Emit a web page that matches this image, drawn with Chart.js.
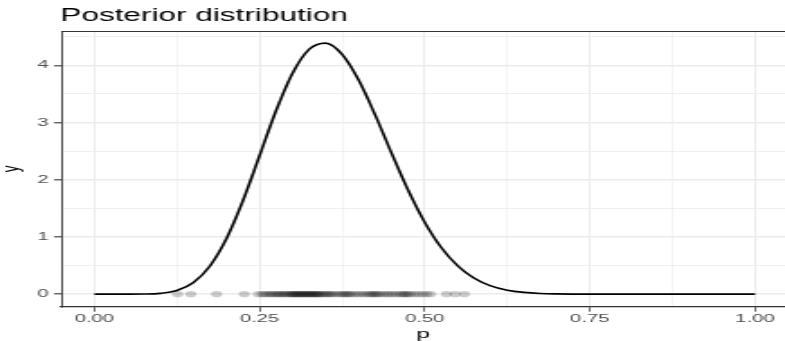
<!DOCTYPE html>
<html>
<head>
<meta charset="utf-8">
<script src="https://cdn.jsdelivr.net/npm/chart.js@4.4.1/dist/chart.umd.min.js"></script>
<style>
  html, body { margin: 0; padding: 0; background: #ffffff; overflow: hidden; }
  #wrap { width: 785px; height: 341px; overflow: hidden; }
</style>
</head>
<body>
<div id="wrap"><canvas id="c" width="436" height="341" style="display:block;width:785px;height:341px;"></canvas></div>
<script>
// ---- data ----
const pValues = [0, 0.025, 0.05, 0.075, 0.1, 0.125, 0.15, 0.175, 0.2, 0.225,
  0.25, 0.275, 0.3, 0.325, 0.35, 0.375, 0.4, 0.425, 0.45, 0.475,
  0.5, 0.525, 0.55, 0.575, 0.6, 0.625, 0.65, 0.675, 0.7, 0.725,
  0.75, 0.775, 0.8, 0.825, 0.85, 0.875, 0.9, 0.925, 0.95, 0.975, 1];
const densityValues = [0, 0, 0.0001, 0.0017, 0.014, 0.065, 0.205, 0.493, 0.972, 1.637,
  2.419, 3.206, 3.863, 4.278, 4.388, 4.192, 3.743, 3.133, 2.461, 1.816,
  1.257, 0.815, 0.494, 0.279, 0.146, 0.070, 0.031, 0.012, 0.0044, 0.0014,
  0.0004, 0.0001, 0, 0, 0, 0, 0, 0, 0, 0, 0];
const drawSamples = [0.126, 0.146, 0.185, 0.227, 0.248,
  0.254, 0.258, 0.262, 0.266, 0.269, 0.273, 0.276, 0.279, 0.282, 0.285, 0.288, 0.291, 0.294, 0.297,
  0.299, 0.301, 0.303, 0.305, 0.307, 0.309, 0.311, 0.313, 0.315, 0.317, 0.319, 0.321, 0.323, 0.325,
  0.327, 0.329, 0.331, 0.333, 0.335, 0.337, 0.339, 0.341, 0.344, 0.347, 0.350, 0.353, 0.356, 0.359,
  0.363, 0.368, 0.372, 0.376, 0.379, 0.382, 0.385, 0.388, 0.393, 0.398,
  0.403, 0.408, 0.413, 0.417, 0.420, 0.423, 0.426, 0.429, 0.433, 0.438, 0.443, 0.447,
  0.452, 0.457, 0.462, 0.466, 0.469, 0.472, 0.475, 0.479, 0.485, 0.491, 0.497, 0.503, 0.509,
  0.533, 0.546, 0.560];
const xMajorTicks = [0, 0.25, 0.5, 0.75, 1];
const xTickLabels = ['0.00', '0.25', '0.50', '0.75', '1.00'];
const xMinorTicks = [0.125, 0.375, 0.625, 0.875];
const yMajorTicks = [0, 1, 2, 3, 4];
const yTickLabels = ['0', '1', '2', '3', '4'];
const yMinorTicks = [0.5, 1.5, 2.5, 3.5, 4.5];
const chartTitle = 'Posterior distribution';
const xTitle = 'p';
const yTitle = 'y';

// ---- chart ----
const FONT = "'Liberation Sans', Arial, Helvetica, sans-serif";
const curvePoints = pValues.map((p, i) => ({ x: p, y: densityValues[i] }));
const rugPoints = drawSamples.map(p => ({ x: p, y: 0 }));

function tickSetter(major, minor) {
  return function (scale) {
    scale.ticks = major.concat(minor).sort((a, b) => a - b).map(v => ({ value: v }));
  };
}
function gridFor(major) {
  return ctx => ctx.tick && major.indexOf(ctx.tick.value) >= 0;
}
const isXMajor = gridFor(xMajorTicks);
const isYMajor = gridFor(yMajorTicks);

const layoutPlugin = {
  id: 'layoutTweaks',
  afterLayout(chart) {
    if (chart.titleBlock) {
      const w = chart.titleBlock.right - chart.titleBlock.left;
      chart.titleBlock.left = 33.6;
      chart.titleBlock.right = 33.6 + w;
    }
  },
  beforeDatasetsDraw(chart) {
    const { ctx, chartArea } = chart;
    ctx.save();
    ctx.strokeStyle = '#333333';
    ctx.lineWidth = 1.2;
    ctx.beginPath();
    ctx.moveTo(chartArea.left, chartArea.top + 0.5);
    ctx.lineTo(chartArea.right, chartArea.top + 0.5);
    ctx.stroke();
    ctx.restore();
  }
};

new Chart(document.getElementById('c'), {
  type: 'scatter',
  data: {
    datasets: [
      {
        label: 'draws',
        data: rugPoints,
        pointRadius: 3.1,
        pointHoverRadius: 3.1,
        pointBackgroundColor: 'rgba(0,0,0,0.2)',
        pointBorderWidth: 0,
        borderWidth: 0,
        showLine: false,
        order: 1
      },
      {
        label: 'density',
        data: curvePoints,
        showLine: true,
        borderColor: '#000000',
        borderWidth: 1.6,
        pointRadius: 0,
        pointHoverRadius: 0,
        cubicInterpolationMode: 'monotone',
        fill: false,
        order: 2
      }
    ]
  },
  options: {
    responsive: false,
    animation: false,
    devicePixelRatio: 1,
    layout: { padding: 0, autoPadding: false },
    plugins: {
      legend: { display: false },
      tooltip: { enabled: false },
      title: {
        display: true,
        text: chartTitle,
        align: 'start',
        color: '#000000',
        font: { family: FONT, size: 17.5, weight: 'normal', lineHeight: 1.2 },
        padding: { top: 5.2, bottom: 4.8 }
      }
    },
    scales: {
      x: {
        type: 'linear',
        min: -0.05,
        max: 1.0454,
        afterBuildTicks: tickSetter(xMajorTicks, xMinorTicks),
        afterFit(scale) { scale.height = 34.3; scale.paddingLeft = 0; scale.paddingRight = 0; },
        ticks: {
          autoSkip: false,
          maxRotation: 0,
          padding: 0.5,
          color: '#4d4d4d',
          font: { family: FONT, size: 11.3 },
          callback: v => { const i = xMajorTicks.indexOf(v); return i >= 0 ? xTickLabels[i] : ''; }
        },
        grid: {
          color: '#ebebeb',
          lineWidth: ctx => isXMajor(ctx) ? 1.05 : 0.55,
          drawTicks: true,
          tickLength: 5,
          tickColor: ctx => isXMajor(ctx) ? '#333333' : 'rgba(0,0,0,0)',
          tickWidth: 0.75
        },
        border: { display: true, color: '#333333', width: 1.2 },
        title: {
          display: true,
          text: xTitle,
          color: '#000000',
          font: { family: FONT, size: 13.5, lineHeight: 1 },
          padding: 0
        }
      },
      y: {
        type: 'linear',
        min: -0.219,
        max: 4.6,
        afterBuildTicks: tickSetter(yMajorTicks, yMinorTicks),
        afterFit(scale) { scale.width = 34.05; scale.paddingTop = 0; scale.paddingBottom = 0; },
        ticks: {
          autoSkip: false,
          padding: 3,
          color: '#4d4d4d',
          font: { family: FONT, size: 11.3 },
          callback: v => { const i = yMajorTicks.indexOf(v); return i >= 0 ? yTickLabels[i] : ''; }
        },
        grid: {
          color: '#ebebeb',
          lineWidth: ctx => isYMajor(ctx) ? 1.6 : 0.8,
          drawTicks: true,
          tickLength: 4,
          tickColor: ctx => isYMajor(ctx) ? '#333333' : 'rgba(0,0,0,0)',
          tickWidth: 1.1
        },
        border: { display: true, color: '#333333', width: 0.9 },
        title: {
          display: true,
          text: yTitle,
          color: '#000000',
          font: { family: FONT, size: 13.5, lineHeight: 1 },
          padding: 0
        }
      }
    }
  },
  plugins: [layoutPlugin]
});
</script>
</body>
</html>
